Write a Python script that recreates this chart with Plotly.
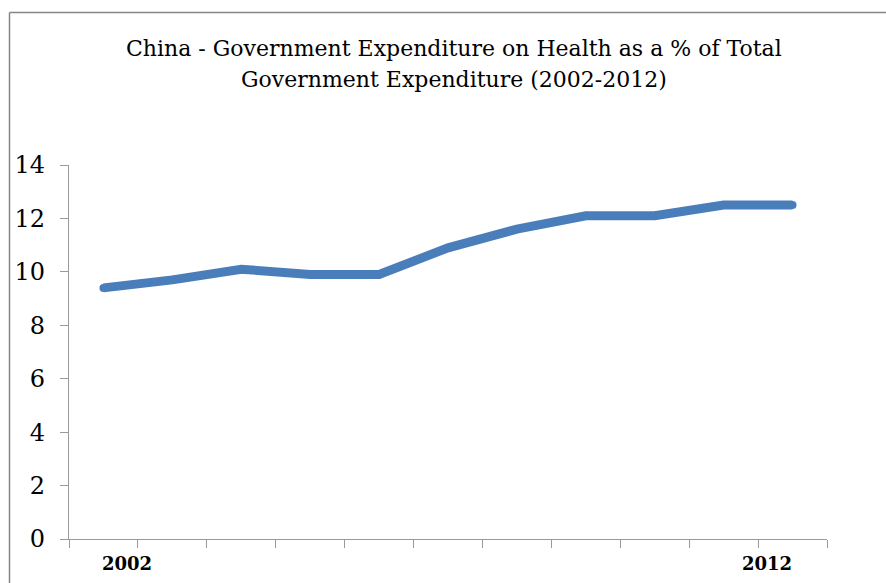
import plotly.graph_objects as go

years = [2002, 2003, 2004, 2005, 2006, 2007, 2008, 2009, 2010, 2011, 2012]
values = [9.4, 9.7, 10.1, 9.9, 9.9, 10.9, 11.6, 12.1, 12.1, 12.5, 12.5]
y_ticks = [0, 2, 4, 6, 8, 10, 12, 14]
x_boundaries = [y - 0.5 for y in years] + [years[-1] + 0.5]
label_years = ["2002", "2012"]
label_pos = [2002.34, 2011.63]

title_lines = ["China - Government Expenditure on Health as a % of Total",
               "Government Expenditure (2002-2012)"]

W, H = 886, 583
ml, mr, mt, mb = 69, 59, 165, 44
pw, ph = W - ml - mr, H - mt - mb

def px_x(px):
    return (px - ml) / pw

def px_y(py):
    return (H - mb - py) / ph

fig = go.Figure()
fig.add_trace(go.Scatter(
    x=years, y=values, mode="lines+markers",
    line=dict(color="#4A7EBB", width=9),
    marker=dict(color="#4A7EBB", size=8),
    showlegend=False, hoverinfo="x+y",
))

serif = "DejaVu Serif"
fig.update_layout(
    width=W, height=H,
    margin=dict(l=ml, r=mr, t=mt, b=mb),
    paper_bgcolor="white", plot_bgcolor="white",
    xaxis=dict(range=[2001.5, 2012.5], tickmode="array", tickvals=x_boundaries,
               showticklabels=False, ticks="outside", ticklen=8, tickwidth=1.3,
               tickcolor="#9a9a9a", showline=True, linecolor="#9a9a9a", linewidth=1.3,
               showgrid=False, zeroline=False, fixedrange=True),
    yaxis=dict(range=[0, 14], tickmode="array", tickvals=y_ticks,
               ticks="outside", ticklen=8, tickwidth=1.3, tickcolor="#9a9a9a",
               showline=True, linecolor="#9a9a9a", linewidth=1.3,
               showgrid=False, zeroline=False, ticklabelstandoff=10,
               tickfont=dict(family=serif, size=24, color="black")),
)

for line, ypx in zip(title_lines, [48, 80]):
    fig.add_annotation(x=px_x(453.5), xref="paper", y=px_y(ypx), yref="paper",
                       text=line, showarrow=False, xanchor="center", yanchor="middle",
                       font=dict(family=serif, size=22, color="black"))

for txt, xp in zip(label_years, label_pos):
    fig.add_annotation(x=xp, xref="x", y=0, yref="paper", yshift=-24,
                       text="<b>" + txt + "</b>", showarrow=False,
                       xanchor="center", yanchor="middle",
                       font=dict(family=serif, size=18, color="black"))

# outer chart border (left, top)
fig.add_shape(type="line", xref="paper", yref="paper",
              x0=px_x(9.5), x1=px_x(9.5), y0=px_y(583), y1=px_y(12.5),
              line=dict(color="#868686", width=1.5))
fig.add_shape(type="line", xref="paper", yref="paper",
              x0=px_x(9.5), x1=px_x(890), y0=px_y(12.5), y1=px_y(12.5),
              line=dict(color="#868686", width=1.5))

fig.write_html("out.html", config={"displayModeBar": False},
               post_script="document.body.style.margin='0';document.body.style.overflow='hidden';")
